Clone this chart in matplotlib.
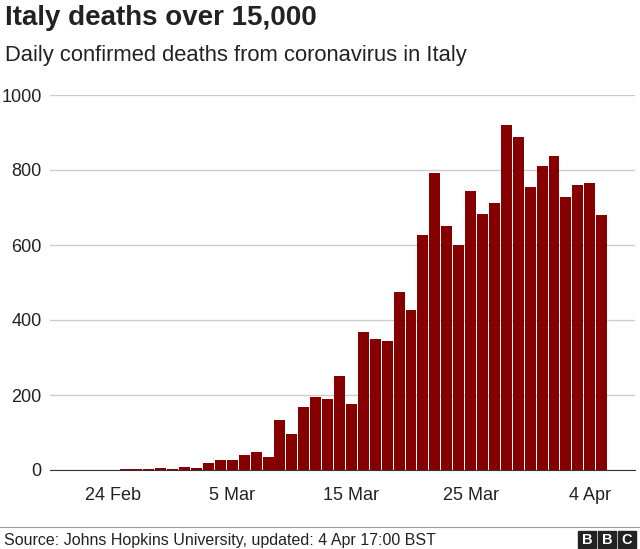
import matplotlib.pyplot as plt
from matplotlib.patches import Rectangle
import numpy as np

# daily deaths, 22 Feb .. 4 Apr
deaths = [1, 1, 1, 4, 3, 2, 5, 4, 8, 5, 18, 27, 28, 41, 49, 36, 133, 97, 168, 196,
          189, 250, 175, 368, 349, 345, 475, 427, 627, 793, 651, 601, 743, 683, 712,
          919, 889, 756, 812, 837, 727, 760, 766, 681]
tick_days = [2, 12, 22, 32, 42]
tick_labels = ['24 Feb', '5 Mar', '15 Mar', '25 Mar', '4 Apr']
y_ticks = [0, 200, 400, 600, 800, 1000]

plt.rcParams['font.family'] = 'Liberation Sans'
fig = plt.figure(figsize=(6.4, 5.49), dpi=100)
ax = fig.add_axes([50/640, 79/549, 585/640, 375/549])

x = np.arange(len(deaths))
ax.bar(x, deaths, width=0.92, color='#870000', edgecolor='none', zorder=3)
ax.set_xlim(-3.3, 45.8)
ax.set_ylim(0, 1000)
ax.set_yticks(y_ticks)
ax.set_yticklabels([str(v) for v in y_ticks], fontsize=13, color='#222222')
ax.set_xticks(tick_days)
ax.set_xticklabels(tick_labels, fontsize=13, color='#222222')
ax.tick_params(axis='both', length=0)
ax.tick_params(axis='x', pad=12)
ax.tick_params(axis='y', pad=6)
ax.grid(axis='y', color='#cccccc', linewidth=1, zorder=0)
for s in ['top', 'right', 'left']:
    ax.spines[s].set_visible(False)
ax.spines['bottom'].set_color('#333333')
ax.spines['bottom'].set_zorder(4)

fig.text(5/640, 1 - 18/549, 'Italy deaths over 15,000', fontsize=20, fontweight='bold',
         va='center', color='#222222')
fig.text(5/640, 1 - 55/549, 'Daily confirmed deaths from coronavirus in Italy', fontsize=15.8,
         va='center', color='#222222')

fig.add_artist(plt.Line2D([0, 1], [1 - 527/549, 1 - 527/549], color='#999999', linewidth=0.8))
fig.text(4/640, 1 - 540/549, 'Source: Johns Hopkins University, updated: 4 Apr 17:00 BST',
         fontsize=11.5, va='center', color='#222222')
for i, letter in enumerate('BBC'):
    x0 = (578 + i * 20) / 640
    fig.add_artist(Rectangle((x0, 1 - 548/549), 18/640, 17/549, color='#222222',
                             transform=fig.transFigure))
    fig.text(x0 + 9/640, 1 - 539.5/549, letter, fontsize=10.5, fontweight='bold',
             color='white', ha='center', va='center')

fig.savefig('out.png', dpi=100)
